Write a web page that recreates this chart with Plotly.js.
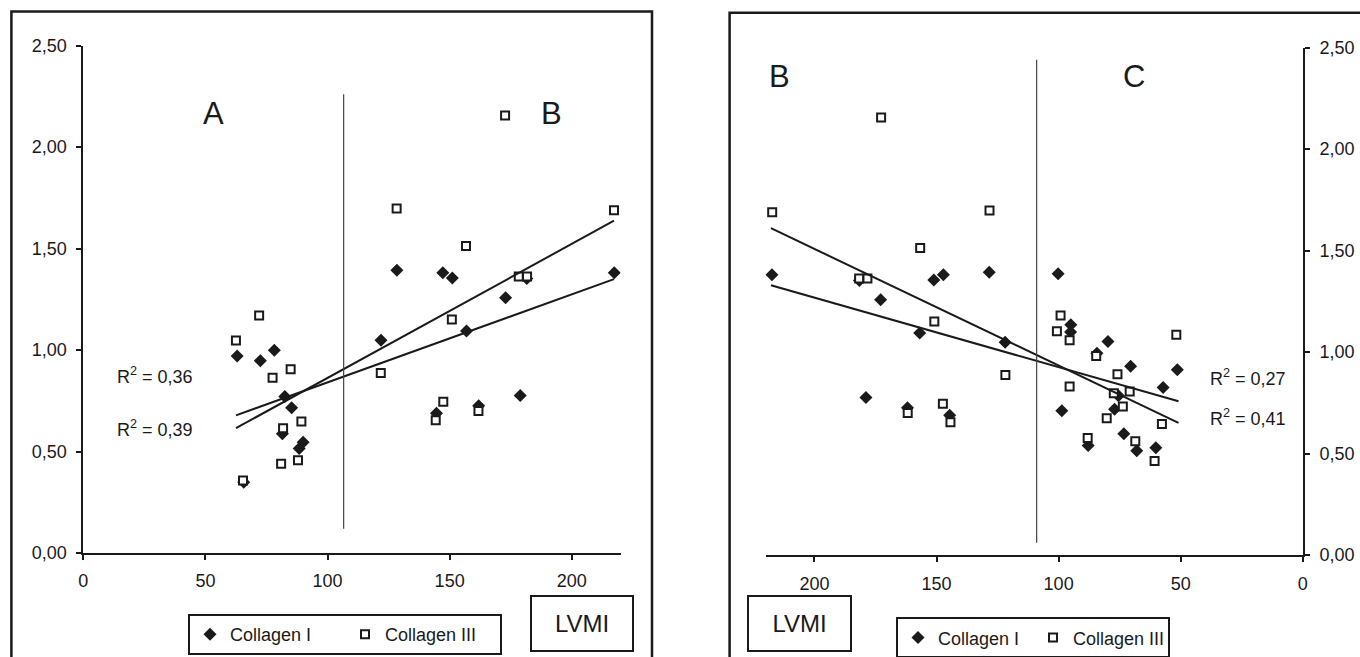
<!DOCTYPE html>
<html><head><meta charset="utf-8">
<script src="https://cdn.plot.ly/plotly-3.0.1.min.js"></script>
<style>html,body{margin:0;padding:0;background:#fff;} #chart{width:1360px;height:657px;}</style>
</head><body><div id="chart"></div>
<script>
// ---------- DATA (LVMI vs collagen expression) ----------
var seriesNames = ['Collagen I', 'Collagen III'];

// Group A (left panel only)
var groupA_col1_lvmi = [63.0, 72.5, 78.2, 82.5, 85.3, 81.5, 90.0, 88.4, 65.7];
var groupA_col1_val  = [0.970, 0.947, 0.999, 0.771, 0.715, 0.588, 0.546, 0.515, 0.348];
var groupA_col3_lvmi = [62.5, 72.0, 77.5, 84.9, 81.8, 89.3, 81.0, 87.9, 65.4];
var groupA_col3_val  = [1.047, 1.170, 0.863, 0.905, 0.615, 0.648, 0.440, 0.457, 0.357];

// Group B (shown in both panels)
var groupB_col1_lvmi = [217.4, 172.9, 156.9, 151.1, 147.2, 128.4, 121.9, 181.6, 178.9, 161.9, 144.6];
var groupB_col1_val  = [1.380, 1.258, 1.094, 1.355, 1.380, 1.393, 1.048, 1.352, 0.776, 0.725, 0.689];
var groupB_col3_lvmi = [121.8, 128.3, 156.7, 150.9, 147.4, 144.3, 161.8, 172.7, 178.3, 181.7, 217.3];
var groupB_col3_val  = [0.887, 1.697, 1.512, 1.150, 0.745, 0.654, 0.700, 2.155, 1.362, 1.362, 1.688];

// Group C (right panel only)
var groupC_col1_lvmi = [100.2, 95.0, 95.1, 79.8, 84.3, 70.5, 51.4, 57.2, 75.5, 77.1, 98.7, 73.3, 87.9, 68.0, 60.2];
var groupC_col1_val  = [1.385, 1.134, 1.098, 1.052, 0.994, 0.930, 0.912, 0.825, 0.785, 0.718, 0.711, 0.597, 0.540, 0.514, 0.528];
var groupC_col3_lvmi = [99.2, 100.7, 95.5, 84.6, 51.8, 75.9, 95.5, 77.4, 70.9, 73.7, 80.3, 57.7, 88.1, 68.6, 60.7];
var groupC_col3_val  = [1.180, 1.102, 1.058, 0.980, 1.085, 0.891, 0.830, 0.797, 0.805, 0.731, 0.674, 0.645, 0.576, 0.560, 0.463];

// Trend lines (end points)
var trendLeft_col1_x  = [62.5, 217.3];
var trendLeft_col1_y  = [0.678, 1.349];
var trendLeft_col3_x  = [62.5, 217.3];
var trendLeft_col3_y  = [0.615, 1.637];
var trendRight_col1_x = [217.8, 50.9];
var trendRight_col1_y = [1.329, 0.757];
var trendRight_col3_x = [217.8, 50.9];
var trendRight_col3_y = [1.610, 0.651];

// Group separators
var dividerLeft_x  = [106.6, 106.6];
var dividerLeft_y  = [0.12, 2.26];
var dividerRight_x = [109.0, 109.0];
var dividerRight_y = [0.06, 2.44];

// Region labels and R² texts
var leftRegionLabels  = ['A', 'B'];
var leftRegionX       = [53.5, 191.8];
var leftRegionY       = [2.163, 2.163];
var rightRegionLabels = ['B', 'C'];
var rightRegionX      = [214.4, 69.3];
var rightRegionY      = [2.355, 2.355];
var leftR2Text  = ['R<sup>2</sup> = 0,36', 'R<sup>2</sup> = 0,39'];
var leftR2X     = [29.4, 29.2];
var leftR2Y     = [0.876, 0.612];
var rightR2Text = ['R<sup>2</sup> = 0,27', 'R<sup>2</sup> = 0,41'];
var rightR2X    = [22.6, 22.6];
var rightR2Y    = [0.876, 0.676];

// Ticks
var xTickVals = [0, 50, 100, 150, 200];
var xTickText = ['0', '50', '100', '150', '200'];
var yTickVals = [0, 0.5, 1, 1.5, 2, 2.5];
var yTickText = ['0,00', '0,50', '1,00', '1,50', '2,00', '2,50'];
var axisTitle = 'LVMI';

// ---------- STYLE ----------
var INK = '#1a1a1a';
var FONT = 'Liberation Sans, Arial, Helvetica, sans-serif';
var W = 1360, H = 657;
function px(v){ return v / W; }
function py(v){ return 1 - v / H; }

var diamond = {symbol: 'diamond', size: 10, color: INK, line: {width: 0}};
var square  = {symbol: 'square', size: 8, color: '#ffffff', line: {width: 2, color: INK}};

var traces = [
  {x: groupA_col1_lvmi.concat(groupB_col1_lvmi), y: groupA_col1_val.concat(groupB_col1_val),
   type: 'scatter', mode: 'markers', name: seriesNames[0], marker: diamond,
   xaxis: 'x', yaxis: 'y', legend: 'legend', hoverinfo: 'x+y'},
  {x: groupA_col3_lvmi.concat(groupB_col3_lvmi), y: groupA_col3_val.concat(groupB_col3_val),
   type: 'scatter', mode: 'markers', name: seriesNames[1], marker: square,
   xaxis: 'x', yaxis: 'y', legend: 'legend', hoverinfo: 'x+y'},
  {x: groupB_col1_lvmi.concat(groupC_col1_lvmi), y: groupB_col1_val.concat(groupC_col1_val),
   type: 'scatter', mode: 'markers', name: seriesNames[0], marker: diamond,
   xaxis: 'x2', yaxis: 'y2', legend: 'legend2', hoverinfo: 'x+y'},
  {x: groupB_col3_lvmi.concat(groupC_col3_lvmi), y: groupB_col3_val.concat(groupC_col3_val),
   type: 'scatter', mode: 'markers', name: seriesNames[1], marker: square,
   xaxis: 'x2', yaxis: 'y2', legend: 'legend2', hoverinfo: 'x+y'},
  {x: trendLeft_col1_x, y: trendLeft_col1_y, mode: 'lines', line: {color: INK, width: 2}, showlegend: false, xaxis: 'x', yaxis: 'y', hoverinfo: 'skip'},
  {x: trendLeft_col3_x, y: trendLeft_col3_y, mode: 'lines', line: {color: INK, width: 2}, showlegend: false, xaxis: 'x', yaxis: 'y', hoverinfo: 'skip'},
  {x: trendRight_col1_x, y: trendRight_col1_y, mode: 'lines', line: {color: INK, width: 2}, showlegend: false, xaxis: 'x2', yaxis: 'y2', hoverinfo: 'skip'},
  {x: trendRight_col3_x, y: trendRight_col3_y, mode: 'lines', line: {color: INK, width: 2}, showlegend: false, xaxis: 'x2', yaxis: 'y2', hoverinfo: 'skip'},
  {x: dividerLeft_x, y: dividerLeft_y, mode: 'lines', line: {color: '#444', width: 1.2}, showlegend: false, xaxis: 'x', yaxis: 'y', hoverinfo: 'skip'},
  {x: dividerRight_x, y: dividerRight_y, mode: 'lines', line: {color: '#444', width: 1.2}, showlegend: false, xaxis: 'x2', yaxis: 'y2', hoverinfo: 'skip'}
];

function axisBase(){
  return {showgrid: false, zeroline: false, showline: true, linecolor: INK, linewidth: 2,
          ticks: 'outside', ticklen: 5, tickwidth: 2, tickcolor: INK,
          tickfont: {family: FONT, size: 18, color: INK}, fixedrange: true};
}
var xaxis  = Object.assign(axisBase(), {domain: [px(83.3), px(620.6)], range: [0, 220], anchor: 'y',
  tickvals: xTickVals, ticktext: xTickText, ticklabelstandoff: 5});
var yaxis  = Object.assign(axisBase(), {domain: [py(553), py(45.5)], range: [0, 2.5], anchor: 'x',
  tickvals: yTickVals, ticktext: yTickText, ticklabelstandoff: 6});
var xaxis2 = Object.assign(axisBase(), {domain: [px(765.6), px(1302.8)], range: [220, 0], anchor: 'y2',
  tickvals: xTickVals, ticktext: xTickText, ticklabelstandoff: 6});
var yaxis2 = Object.assign(axisBase(), {domain: [py(555), py(47.5)], range: [0, 2.5], anchor: 'x2', side: 'right',
  tickvals: yTickVals, ticktext: yTickText, ticklabelstandoff: 6});

var annotations = [];
function addTexts(texts, xs, ys, xref, yref, size){
  for (var i = 0; i < texts.length; i++){
    annotations.push({text: texts[i], x: xs[i], y: ys[i], xref: xref, yref: yref,
      showarrow: false, xanchor: 'center', yanchor: 'middle',
      font: {family: FONT, size: size, color: INK}});
  }
}
addTexts(leftRegionLabels, leftRegionX, leftRegionY, 'x', 'y', 31);
addTexts(rightRegionLabels, rightRegionX, rightRegionY, 'x2', 'y2', 31);
addTexts(leftR2Text, leftR2X, leftR2Y, 'x', 'y', 18);
addTexts(rightR2Text, rightR2X, rightR2Y, 'x2', 'y2', 18);

// LVMI axis-title boxes
annotations.push({text: axisTitle, xref: 'paper', yref: 'paper', x: px(581.5), y: py(623), xanchor: 'center', yanchor: 'middle',
  showarrow: false, width: 100, height: 53, borderpad: 0, borderwidth: 2, bordercolor: INK, bgcolor: '#fff',
  font: {family: FONT, size: 24, color: INK}});
annotations.push({text: axisTitle, xref: 'paper', yref: 'paper', x: px(799.5), y: py(623.3), xanchor: 'center', yanchor: 'middle',
  showarrow: false, width: 101, height: 53, borderpad: 0, borderwidth: 2, bordercolor: INK, bgcolor: '#fff',
  font: {family: FONT, size: 24, color: INK}});

var shapes = [
  {type: 'rect', xref: 'paper', yref: 'paper', x0: px(11.4), x1: px(652), y0: -0.1, y1: py(11.4), line: {color: INK, width: 2.5}},
  {type: 'rect', xref: 'paper', yref: 'paper', x0: px(729.6), x1: 1.1, y0: -0.1, y1: py(12.7), line: {color: INK, width: 2.5}}
];

var legendBase = {orientation: 'h', xanchor: 'left', yanchor: 'top', borderwidth: 2, bordercolor: INK, bgcolor: '#fff',
  font: {family: FONT, size: 18, color: INK}, itemwidth: 30, traceorder: 'normal', itemclick: false, itemdoubleclick: false};

var layout = {
  width: W, height: H, margin: {l: 0, r: 0, t: 0, b: 0, autoexpand: false},
  paper_bgcolor: '#fff', plot_bgcolor: 'rgba(0,0,0,0)',
  showlegend: true,
  xaxis: xaxis, yaxis: yaxis, xaxis2: xaxis2, yaxis2: yaxis2,
  legend: Object.assign({}, legendBase, {x: px(188), y: py(614), entrywidth: 110}),
  legend2: Object.assign({}, legendBase, {x: px(896), y: py(617.3), entrywidth: 90}),
  annotations: annotations, shapes: shapes,
  font: {family: FONT, color: INK}
};

Plotly.newPlot('chart', traces, layout, {displayModeBar: false, staticPlot: true});
</script></body></html>
